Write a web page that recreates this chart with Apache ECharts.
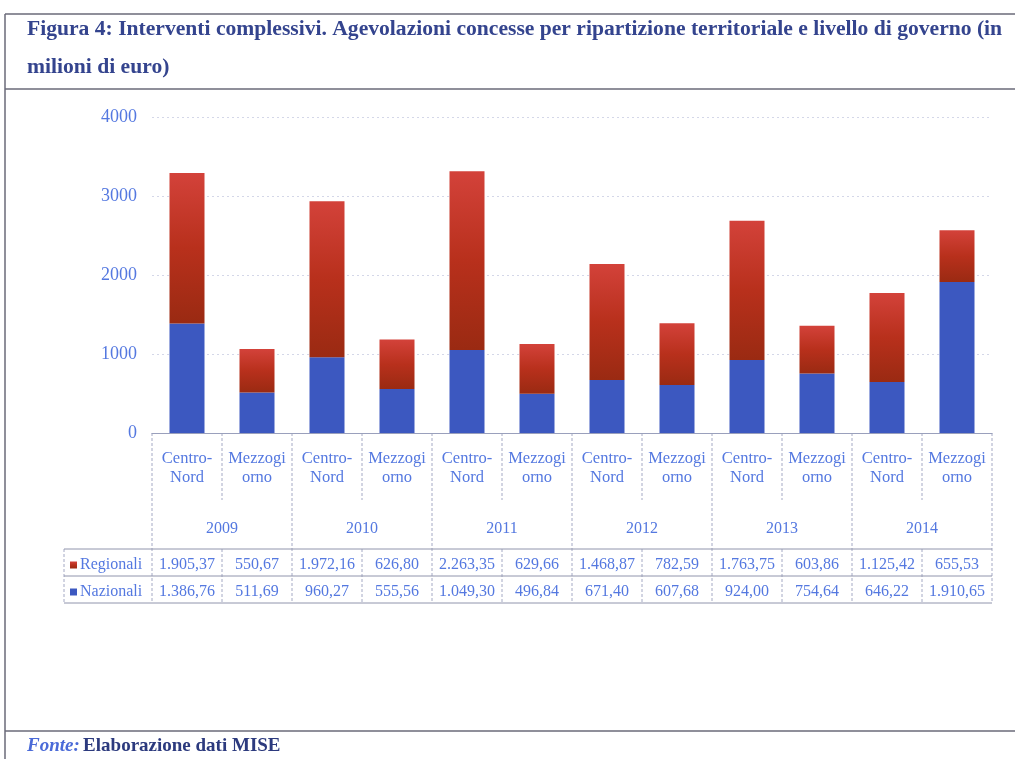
<!DOCTYPE html>
<html>
<head>
<meta charset="utf-8">
<script src="https://cdn.jsdelivr.net/npm/echarts@6/dist/echarts.min.js"></script>
<style>
html,body{margin:0;padding:0;background:#fff;}
#chart{width:1015px;height:759px;}
</style>
</head>
<body>
<div id="chart"></div>
<script>
const categories = ['Centro-\nNord','Mezzogi\norno','Centro-\nNord','Mezzogi\norno','Centro-\nNord','Mezzogi\norno',
                    'Centro-\nNord','Mezzogi\norno','Centro-\nNord','Mezzogi\norno','Centro-\nNord','Mezzogi\norno'];
const years = ['2009','2010','2011','2012','2013','2014'];
const regionali = [1905.37, 550.67, 1972.16, 626.80, 2263.35, 629.66, 1468.87, 782.59, 1763.75, 603.86, 1125.42, 655.53];
const nazionali = [1386.76, 511.69, 960.27, 555.56, 1049.30, 496.84, 671.40, 607.68, 924.00, 754.64, 646.22, 1910.65];
const yTicks = [0, 1000, 2000, 3000, 4000];

function fmtIt(v){
  const parts = v.toFixed(2).split('.');
  const intp = parts[0].replace(/\B(?=(\d{3})+(?!\d))/g, '.');
  return intp + ',' + parts[1];
}

const FONT = "'Liberation Serif','Times New Roman',serif";
const LBL = '#5478e0';
const GL = 152, GR = 992, GT = 117, GB = 433;
const catW = (GR - GL) / categories.length;
const tblLeft = 64, rowTop = 549, rowMid = 576, rowBot = 603;
const lineC = '#a4a9c4';

const graphics = [];
function hline(x1,x2,y,color,w,dash){graphics.push({type:'line',shape:{x1:x1,y1:y,x2:x2,y2:y},style:{stroke:color,lineWidth:w||1,lineDash:dash||null},silent:true});}
function vline(x,y1,y2,color,w,dash){graphics.push({type:'line',shape:{x1:x,y1:y1,x2:x,y2:y2},style:{stroke:color,lineWidth:w||1,lineDash:dash||null},silent:true});}

// frame
hline(5,1015,14,'#6a6a78',1.5);
vline(5,14,759,'#6a6a78',1.5);
hline(5,1015,89,'#6a6a78',1.5);
hline(5,1015,731,'#6a6a78',1.5);

// category/year area verticals
for(let i=0;i<=categories.length;i++){
  const x = GL + i*catW;
  if(i%2===0){ vline(x,GB,rowBot,lineC,1,[3,2]); }
  else { vline(x,GB,500,lineC,1,[3,2]); vline(x,rowTop,rowBot,lineC,1,[3,2]); }
}
vline(tblLeft,rowTop,rowBot,lineC,1,[3,2]);
hline(tblLeft,GR,rowTop,'#9094ac',1);
hline(tblLeft,GR,rowMid,'#9094ac',1);
hline(tblLeft,GR,rowBot,'#9094ac',1);

// titles
graphics.push({type:'text',left:27,top:18,style:{text:'Figura 4: Interventi complessivi. Agevolazioni concesse per ripartizione territoriale e livello di governo (in',font:"bold 21.6px "+FONT,fill:'#34448e'}});
graphics.push({type:'text',left:27,top:56,style:{text:'milioni di euro)',font:"bold 21.6px "+FONT,fill:'#34448e'}});
graphics.push({type:'text',left:27,top:737,style:{rich:{a:{font:"italic bold 19px "+FONT,fill:'#4a6ad8'},b:{font:"bold 19px "+FONT,fill:'#2c3a7e'}},text:'{a|Fonte:} {b|Elaborazione dati MISE}'}});

function rowAxis(offset, arr){
  return {type:'category',data:categories,position:'bottom',offset:offset,
    axisLine:{show:false},axisTick:{show:false},splitLine:{show:false},
    axisLabel:{interval:0,margin:5,fontFamily:FONT,fontSize:16,color:LBL,
      formatter:function(v,i){return fmtIt(arr[i]);}}};
}

const chart = echarts.init(document.getElementById('chart'));
chart.setOption({
  animation:false,
  backgroundColor:'#fff',
  grid:{left:GL,right:1015-GR,top:GT,bottom:759-GB,containLabel:false},
  legend:{orient:'vertical',left:65,top:551,itemWidth:7,itemHeight:7,itemGap:9,icon:'rect',
    data:['Regionali','Nazionali'],
    textStyle:{fontFamily:FONT,fontSize:16,lineHeight:18,color:LBL,padding:[0,0,0,-2]}},
  xAxis:[
    {type:'category',data:categories,position:'bottom',
      axisLine:{show:true,lineStyle:{color:'#9aa0bc',width:1}},axisTick:{show:false},
      axisLabel:{interval:0,margin:16,fontFamily:FONT,fontSize:16.5,lineHeight:19,color:LBL}},
    {type:'category',data:years,position:'bottom',offset:83,
      axisLine:{show:false},axisTick:{show:false},
      axisLabel:{interval:0,margin:5,fontFamily:FONT,fontSize:16,color:LBL}},
    rowAxis(119, regionali),
    rowAxis(146, nazionali)
  ],
  yAxis:{type:'value',min:yTicks[0],max:yTicks[yTicks.length-1],interval:1000,
    axisLine:{show:false},axisTick:{show:false},
    splitLine:{show:true,lineStyle:{color:'#d4d7e8',type:[2,3],width:1}},
    axisLabel:{margin:15,fontFamily:FONT,fontSize:18,color:LBL,formatter:function(v){return String(v);}}},
  series:[
    {name:'Nazionali',type:'bar',stack:'tot',barWidth:35,data:nazionali,
      itemStyle:{color:'#3c58c0'}},
    {name:'Regionali',type:'bar',stack:'tot',barWidth:35,data:regionali,
      itemStyle:{color:new echarts.graphic.LinearGradient(0,0,0,1,[{offset:0,color:'#d3423a'},{offset:0.5,color:'#b8301c'},{offset:1,color:'#9a2a12'}])}}
  ],
  graphic:graphics
});
</script>
</body>
</html>
